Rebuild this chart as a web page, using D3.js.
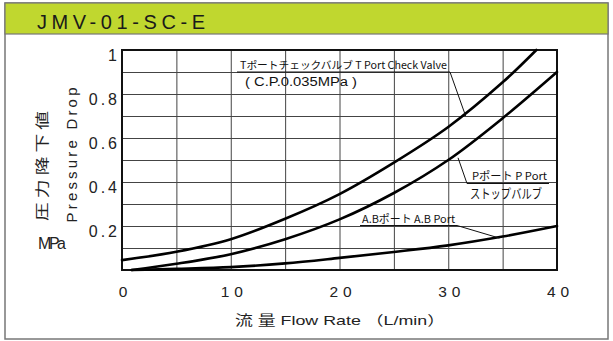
<!DOCTYPE html>
<html><head><meta charset="utf-8">
<script src="https://cdn.jsdelivr.net/npm/d3@7"></script>
<style>
body{margin:0;background:#fff;}
svg{display:block;}
</style></head>
<body>
<svg id="c" width="613" height="341"></svg>
<script>
// ---- data ----
const title = "JMV-01-SC-E";
const flowT = [0, 5, 10, 15, 20, 25, 30, 35, 38.1];
const dropT = [0.045, 0.083, 0.14, 0.233, 0.345, 0.488, 0.65, 0.853, 1.0];
const flowP = [0.9, 5, 10, 15, 20, 25, 30, 35, 40];
const dropP = [0, 0.028, 0.072, 0.14, 0.23, 0.35, 0.5, 0.69, 0.9];
const flowAB = [0.9, 5, 10, 15, 20, 25, 30, 35, 40];
const dropAB = [0, 0.005, 0.013, 0.03, 0.055, 0.082, 0.112, 0.152, 0.2];
const xTicks = [0, 10, 20, 30, 40];
const yTicks = [0.2, 0.4, 0.6, 0.8, 1];
const xGrid = [5, 10, 15, 20, 25, 30, 35];
const yGrid = [0.1, 0.2, 0.3, 0.4, 0.5, 0.6, 0.7, 0.8, 0.9];
const labelT = "Tポートチェックバルブ  T Port Check Valve";
const labelCP = "( C.P.0.035MPa )";
const labelP1 = "Pポート  P Port";
const labelP2 = "ストップバルブ";
const labelAB = "A.Bポート  A.B Port";
const xTitle = "流 量 Flow Rate  （L/min）";
const yTitleJP = "圧 力 降 下 値";
const yTitleEN = "Pressure Drop";
const yUnit = "MPa";

const svg = d3.select("#c");
const narrow = "'Liberation Sans Narrow','Noto Sans CJK JP',sans-serif";
const sans = "'Liberation Sans','Noto Sans CJK JP',sans-serif";

// frame + header
svg.append("rect").attr("x",5).attr("y",3).attr("width",603).attr("height",336)
  .attr("fill","#fff").attr("stroke","#777").attr("stroke-width",1.5);
svg.append("rect").attr("x",5).attr("y",3).attr("width",603).attr("height",31)
  .attr("fill","#c0d72f").attr("stroke","#777").attr("stroke-width",1.2);
svg.append("text").attr("x",37).attr("y",28.5).text(title)
  .attr("font-family",sans).attr("font-size",20).attr("fill","#1a1a1a")
  .attr("textLength",168).attr("lengthAdjust","spacing");

const x = d3.scaleLinear().domain([0,40]).range([122,557]);
const y = d3.scaleLinear().domain([0,1]).range([270,50]);

// grid
const g = svg.append("g");
g.append("g").attr("transform",`translate(0,${y(0)})`)
  .call(d3.axisBottom(x).tickValues(xGrid).tickSize(-(y(0)-y(1))).tickFormat(""))
  .call(s=>s.select(".domain").remove())
  .call(s=>s.selectAll("line").attr("stroke","#444").attr("stroke-width",1));
g.append("g").attr("transform",`translate(${x(0)},0)`)
  .call(d3.axisLeft(y).tickValues(yGrid).tickSize(-(x(40)-x(0))).tickFormat(""))
  .call(s=>s.select(".domain").remove())
  .call(s=>s.selectAll("line").attr("stroke","#444").attr("stroke-width",1));

// plot border
svg.append("rect").attr("x",x(0)).attr("y",y(1)).attr("width",x(40)-x(0)).attr("height",y(0)-y(1))
  .attr("fill","none").attr("stroke","#111").attr("stroke-width",2);

// axis labels
const yAx = svg.append("g").attr("transform",`translate(${x(0)-2},5)`)
  .call(d3.axisLeft(y).tickValues(yTicks).tickSize(0).tickPadding(0).tickFormat(d=>d===1?"1":d3.format(".1f")(d)));
yAx.select(".domain").remove();
yAx.selectAll("text").attr("font-family",sans).attr("font-size",16).attr("fill","#222")
  .attr("letter-spacing","3px");

const xAx = svg.append("g").attr("transform",`translate(3,${y(0)+16})`)
  .call(d3.axisBottom(x).tickValues(xTicks).tickSize(0).tickPadding(0).tickFormat(d3.format("d")));
xAx.select(".domain").remove();
xAx.selectAll("text").attr("font-family",sans).attr("font-size",15.5).attr("fill","#222")
  .attr("letter-spacing","5px");

// curves
const line = d3.line().x(d=>x(d[0])).y(d=>y(d[1])).curve(d3.curveCatmullRom.alpha(0.5));
const series = [
  d3.zip(flowT, dropT),
  d3.zip(flowP, dropP),
  d3.zip(flowAB, dropAB)
];
svg.append("g").selectAll("path").data(series).join("path")
  .attr("d",line).attr("fill","none").attr("stroke","#000").attr("stroke-width",2.6)
  .attr("stroke-linecap","round");

// annotations
const ann = svg.append("g").attr("fill","#111");
function txt(t,x0,yb,len,fs,ff){
  return ann.append("text").attr("x",x0).attr("y",yb).text(t)
    .attr("font-family",ff||narrow).attr("font-size",fs)
    .attr("textLength",len).attr("lengthAdjust","spacingAndGlyphs");
}
function seg(x1,y1,x2,y2){
  ann.append("line").attr("x1",x1).attr("y1",y1).attr("x2",x2).attr("y2",y2)
    .attr("stroke","#111").attr("stroke-width",1);
}
// T port
txt(labelT,240,68.5,207,10.5);
seg(237,72,450,72); seg(450,72,x(31.6),y(0.7));
txt(labelCP,245,86,112,12.5,sans);
// P port
txt(labelP1,472,180,75,11);
seg(467,183.5,549,183.5); seg(x(30.9),y(0.51),467,183.5);
txt(labelP2,470,198,72,13);
// AB port
txt(labelAB,362,222.5,93,11);
seg(360,225.5,457,225.5); seg(457,225.5,x(34.7),y(0.145));

// axis titles
svg.append("text").attr("x",340).attr("y",325).attr("text-anchor","middle").text(xTitle)
  .attr("font-family",sans).attr("font-size",13.5).attr("fill","#222")
  .attr("textLength",210).attr("lengthAdjust","spacingAndGlyphs");
svg.append("text").attr("transform","translate(47,166) rotate(-90)").attr("text-anchor","middle")
  .text(yTitleJP).attr("font-family","'Noto Sans CJK JP',sans-serif").attr("font-size",14)
  .attr("fill","#222").attr("textLength",110).attr("lengthAdjust","spacingAndGlyphs");
svg.append("text").attr("transform","translate(77,155) rotate(-90)").attr("text-anchor","middle")
  .text(yTitleEN).attr("font-family",sans).attr("font-size",15)
  .attr("fill","#222").attr("textLength",135).attr("lengthAdjust","spacing");
svg.append("text").attr("x",38).attr("y",248.5).text(yUnit)
  .attr("font-family",sans).attr("font-size",16).attr("fill","#222")
  .attr("textLength",28).attr("lengthAdjust","spacing");
</script>
</body></html>
